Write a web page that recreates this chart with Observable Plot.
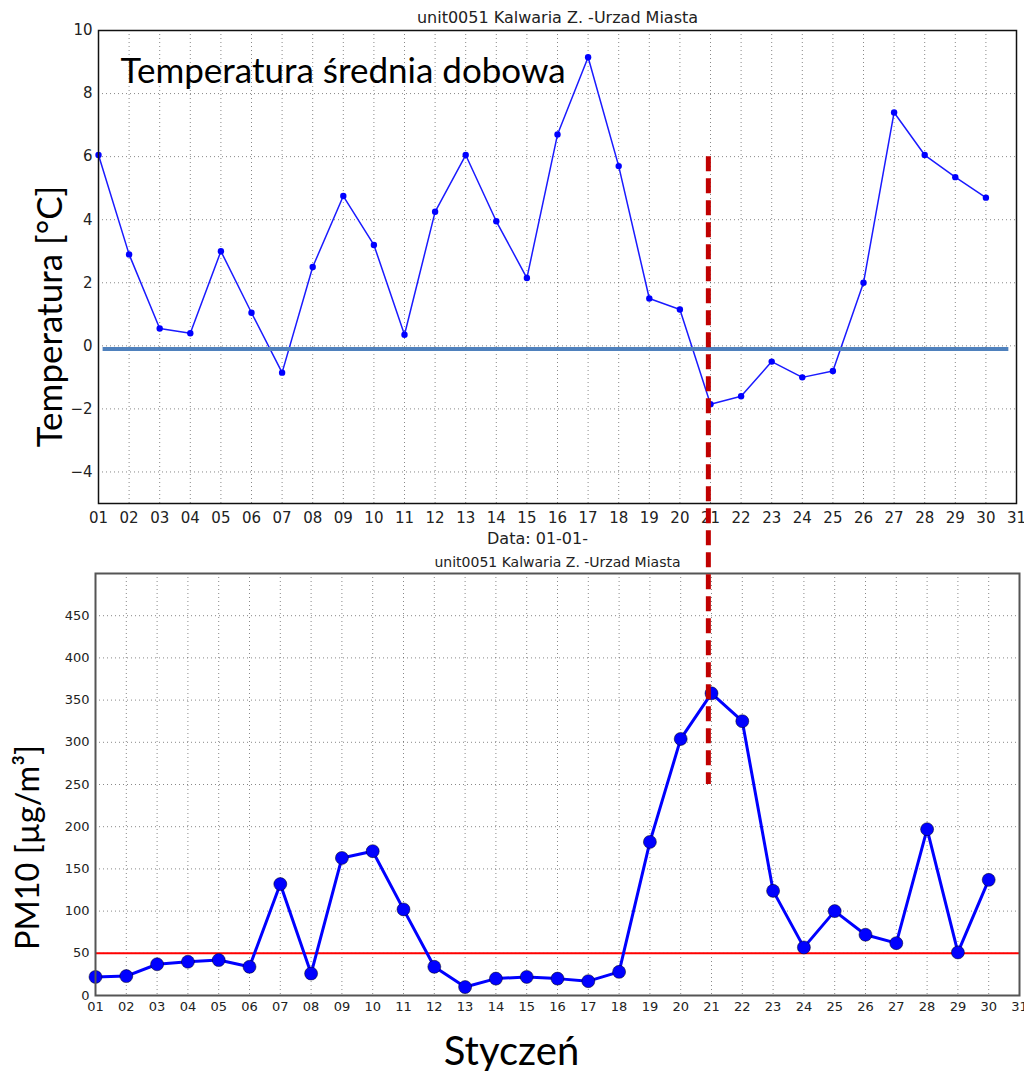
<!DOCTYPE html>
<html><head><meta charset="utf-8">
<script src="https://cdn.jsdelivr.net/npm/d3@7"></script>
<script src="https://cdn.jsdelivr.net/npm/@observablehq/plot@0.6"></script>
<style>
html,body{margin:0;padding:0;background:#fff;}
#wrap{position:relative;width:1024px;height:1071px;overflow:hidden;background:#fff;}
#top{position:absolute;left:0;top:0;z-index:2;}
#bottom{position:absolute;left:0;top:545px;z-index:1;}
</style></head><body>
<div id="wrap"><div id="bottom"></div><div id="top"></div></div>
<script>
// ---- data ----
const days = [1,2,3,4,5,6,7,8,9,10,11,12,13,14,15,16,17,18,19,20,21,22,23,24,25,26,27,28,29,30];
const dayTicks = [1,2,3,4,5,6,7,8,9,10,11,12,13,14,15,16,17,18,19,20,21,22,23,24,25,26,27,28,29,30,31];
const dayLabels = ["01","02","03","04","05","06","07","08","09","10","11","12","13","14","15","16","17","18","19","20","21","22","23","24","25","26","27","28","29","30","31"];
const temperature = [6.05,2.9,0.55,0.4,3.0,1.05,-0.85,2.5,4.75,3.2,0.35,4.25,6.05,3.95,2.15,6.7,9.15,5.7,1.5,1.15,-1.85,-1.6,-0.5,-1.0,-0.8,2.0,7.4,6.05,5.35,4.7];
const pm10 = [22,23,37,40,42,34,132,26,163,171,102,34,10,20,22,20,17,28,182,304,358,325,124,57,100,72,62,197,51,137];
const tempTicks = [-4,-2,0,2,4,6,8,10];
const tempTickLabels = ["−4","−2","0","2","4","6","8","10"];
const pmTicks = [0,50,100,150,200,250,300,350,400,450];
const pmLimit = [50];
const tempRef = [-0.1];
const marker = {day: 20.93, temp: 6, pm: 250};
const stationTitle = "unit0051 Kalwaria Z. -Urzad Miasta";
const dateLabel = "Data: 01-01-";
const overlayTitle = "Temperatura średnia dobowa";
const tempLabel = "Temperatura [°C]";
const pmLabel = "PM10 [µg/m³]";
const monthLabel = "Styczeń";

// ---- layout ----
const W = 1024;
const topH = 545, topM = {top: 30, right: 8, bottom: 42, left: 98};
const botOffset = 545, botH = 526, botM = {top: 28, right: 5, bottom: 76, left: 95};

const tempDomain = [-5, 10], pmDomain = [0, 500];
const topYabs = Plot.scale({y: {domain: tempDomain, range: [topH - topM.bottom, topM.top]}});
const botYabs = Plot.scale({y: {domain: pmDomain, range: [botOffset + botH - botM.bottom, botOffset + botM.top]}});
const markerEndTemp = topYabs.invert(botYabs.apply(marker.pm));

const tempData = days.map((d, i) => ({day: d, v: temperature[i]}));
const pmData = days.map((d, i) => ({day: d, v: pm10[i]}));
const grid = {stroke: "#444", strokeWidth: 0.8, strokeDasharray: "1,3", strokeOpacity: 0.8};
const fmtDay = d => dayLabels[d - 1];

const topChart = Plot.plot({
  width: W, height: topH,
  marginTop: topM.top, marginRight: topM.right, marginBottom: topM.bottom, marginLeft: topM.left,
  style: {fontFamily: "DejaVu Sans", background: "transparent", overflow: "visible", color: "#222"},
  x: {domain: [1, 31], label: null},
  y: {domain: tempDomain, label: null},
  marks: [
    Plot.ruleX(dayTicks, grid),
    Plot.ruleY(tempTicks, grid),
    Plot.axisX({ticks: dayTicks, tickFormat: fmtDay, tickSize: 0, tickPadding: 9, fontSize: 15, label: null}),
    Plot.axisY({ticks: tempTicks, tickFormat: d => tempTickLabels[tempTicks.indexOf(d)], tickSize: 0, tickPadding: 6, fontSize: 15, label: null}),
    Plot.line(tempData, {x: "day", y: "v", stroke: "#1a1aff", strokeWidth: 1.5}),
    Plot.dot(tempData, {x: "day", y: "v", r: 3.2, fill: "#0000ff"}),
    Plot.ruleY(tempRef, {x1: 1.15, x2: 30.75, stroke: "#4f81bd", strokeWidth: 4}),
    Plot.frame({stroke: "#111", strokeWidth: 1.5}),
    Plot.text([stationTitle], {text: d => d, frameAnchor: "top", dy: -8, lineAnchor: "bottom", fontSize: 16, fill: "#222"}),
    Plot.text([dateLabel], {text: d => d, frameAnchor: "bottom", dy: 40, dx: -20, lineAnchor: "bottom", fontSize: 16, fill: "#222"}),
    Plot.text([overlayTitle], {text: d => d, frameAnchor: "top-left", dx: 22, dy: 52, textAnchor: "start", lineAnchor: "bottom", fontSize: 35, fontFamily: "Lato", fill: "#000"}),
    Plot.text([tempLabel], {text: d => d, frameAnchor: "left", rotate: -90, dx: -37, dy: 49.5, textAnchor: "middle", lineAnchor: "bottom", fontSize: 35, fontFamily: "Lato", fill: "#000"}),
    Plot.ruleX([{x: marker.day, y1: marker.temp, y2: markerEndTemp}], {x: "x", y1: "y1", y2: "y2", stroke: "#c00000", strokeWidth: 5, strokeDasharray: "15,7"})
  ]
});

const bottomChart = Plot.plot({
  width: W, height: botH,
  marginTop: botM.top, marginRight: botM.right, marginBottom: botM.bottom, marginLeft: botM.left,
  style: {fontFamily: "DejaVu Sans", background: "transparent", overflow: "visible", color: "#222"},
  x: {domain: [1, 31], label: null},
  y: {domain: pmDomain, label: null},
  marks: [
    Plot.ruleX(dayTicks, grid),
    Plot.ruleY(pmTicks, grid),
    Plot.axisX({ticks: dayTicks, tickFormat: fmtDay, tickSize: 0, tickPadding: 6, fontSize: 13, label: null}),
    Plot.axisY({ticks: pmTicks, tickSize: 0, tickPadding: 6, fontSize: 13, label: null}),
    Plot.ruleY(pmLimit, {stroke: "#ff0000", strokeWidth: 2}),
    Plot.line(pmData, {x: "day", y: "v", stroke: "#0000ff", strokeWidth: 3}),
    Plot.dot(pmData, {x: "day", y: "v", r: 6.5, fill: "#0000ff", stroke: "#000", strokeWidth: 0.8, strokeOpacity: 0.6}),
    Plot.frame({stroke: "#555", strokeWidth: 2}),
    Plot.text([stationTitle], {text: d => d, frameAnchor: "top", dy: -7, lineAnchor: "bottom", fontSize: 14, fill: "#222"}),
    Plot.text([pmLabel], {text: d => d, frameAnchor: "left", rotate: -90, dx: -57, dy: 63, textAnchor: "middle", lineAnchor: "bottom", fontSize: 32.5, fontFamily: "Lato", fill: "#000"}),
    Plot.text([monthLabel], {text: d => d, frameAnchor: "bottom", dx: -46, dy: 69, lineAnchor: "bottom", fontSize: 40, fontFamily: "Lato", fill: "#000"})
  ]
});

document.getElementById("top").appendChild(topChart);
document.getElementById("bottom").appendChild(bottomChart);
</script>
</body></html>
